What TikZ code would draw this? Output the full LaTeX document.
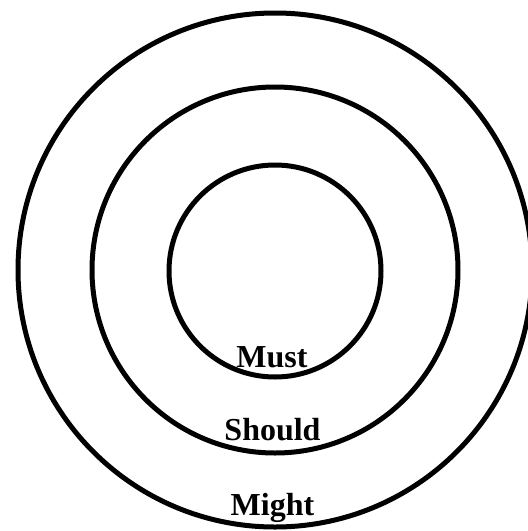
\documentclass[tikz,border=0pt]{standalone}
\usepackage{fontspec}
\setmainfont{Liberation Serif}
\begin{document}
\begin{tikzpicture}[x=1pt,y=-1pt,
  ring/.style={draw=black, line width=5pt, circle, inner sep=0pt, fill=none},
  lbl/.style={font=\fontsize{32}{36}\selectfont\bfseries, anchor=base, inner sep=0pt}]
\useasboundingbox (0,0) rectangle (528,531);
\fill[white] (0,0) rectangle (528,531);
\clip (0,0) rectangle (528,531);
\node[ring, minimum size=514pt] (outer) at (275,270) {};
\node[ring, minimum size=366pt] (middle) at (275,270) {};
\node[ring, minimum size=212pt] (inner) at (275,271) {};
\node[lbl] (must) at (272,367) {Must};
\node[lbl] (should) at (272.5,440) {Should};
\node[lbl] (might) at (272.5,515) {Might};
\end{tikzpicture}
\end{document}
